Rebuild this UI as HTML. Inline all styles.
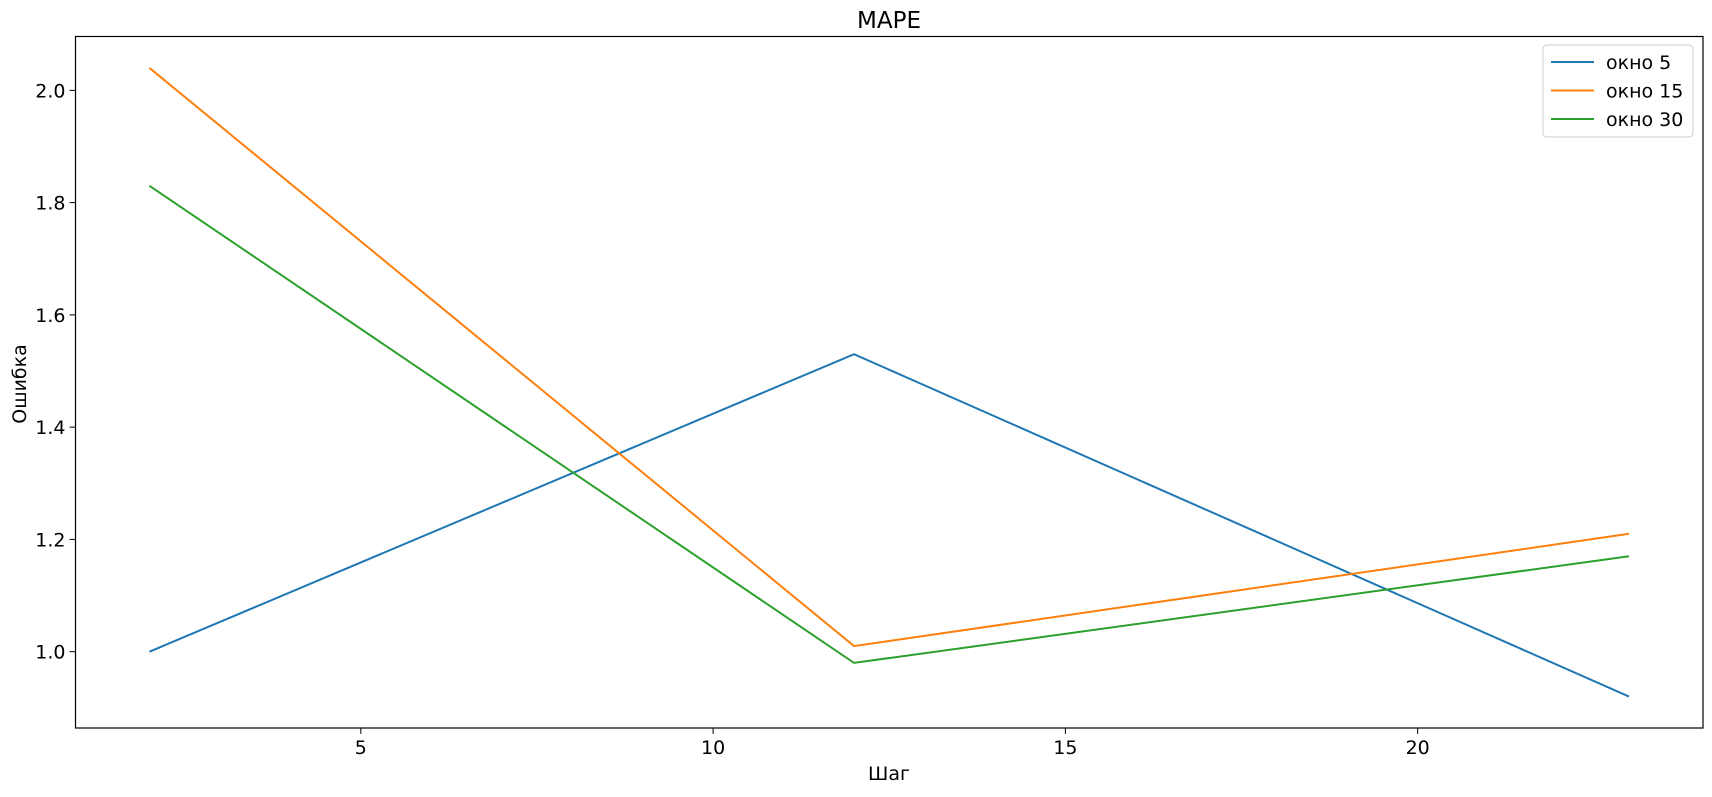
<!DOCTYPE html>
<html><head><meta charset="utf-8"><style>
html,body{margin:0;padding:0;background:#fff;}
svg text{font-family:"DejaVu Sans","Liberation Sans",sans-serif;fill:#000;}
</style></head><body>
<svg id="chart" width="1712" height="792" xmlns="http://www.w3.org/2000/svg">
<rect x="0" y="0" width="1712" height="792" fill="#fff"/>
<text x="889" y="28" font-size="23" text-anchor="middle">MAPE</text>
<g id="plot"></g>
<rect x="75.5" y="36.5" width="1627.5" height="691.5" fill="none" stroke="#000" stroke-width="1.2"/>
<text x="889" y="780" font-size="19" text-anchor="middle">Шаг</text>
<text x="0" y="0" font-size="19" text-anchor="middle" transform="translate(26,384) rotate(-90)">Ошибка</text>
<g>
<rect x="1543" y="45" width="150" height="92" rx="4" fill="#fff" stroke="#ccc" stroke-width="1"/>
<g id="legend-entries"></g>
</g>
</svg>
<script>
const xValues = [2, 12, 23];
const seriesNames = ["окно 5", "окно 15", "окно 30"];
const series5 = [1.0, 1.53, 0.92];
const series15 = [2.04, 1.01, 1.21];
const series30 = [1.83, 0.98, 1.17];
const xTicks = [5, 10, 15, 20];
const yTicks = [1.0, 1.2, 1.4, 1.6, 1.8, 2.0];
const colors = ["#1f77b4", "#ff7f0e", "#2ca02c"];

const NS = "http://www.w3.org/2000/svg";
const L = 75.5, R = 1703, T = 36.5, B = 728;
const allY = series5.concat(series15, series30);
const xmin0 = Math.min(...xValues), xmax0 = Math.max(...xValues);
const ymin0 = Math.min(...allY), ymax0 = Math.max(...allY);
const xm = (xmax0 - xmin0) * 0.05, ym = (ymax0 - ymin0) * 0.05;
const xmin = xmin0 - xm, xmax = xmax0 + xm, ymin = ymin0 - ym, ymax = ymax0 + ym;
function sx(v){return L + (v - xmin) / (xmax - xmin) * (R - L);}
function sy(v){return B - (v - ymin) / (ymax - ymin) * (B - T);}
const svg = document.getElementById('chart');
const plot = document.getElementById('plot');
function mk(tag, attrs){const e=document.createElementNS(NS,tag);for(const k in attrs)e.setAttribute(k,attrs[k]);return e;}

xTicks.forEach(t=>{
  const x = sx(t);
  const ln = mk('line',{x1:x,x2:x,y1:B,y2:B+6,stroke:'#000','stroke-width':1});
  
  
  svg.appendChild(ln);
  const tx = mk('text',{x:x,y:B+26,'font-size':19,'text-anchor':'middle'});
  tx.textContent = t;
  
  
  svg.appendChild(tx);
});
yTicks.forEach(t=>{
  const y = sy(t);
  const ln = mk('line',{x1:L-6,x2:L,y1:y,y2:y,stroke:'#000','stroke-width':1});
  
  
  svg.appendChild(ln);
  const tx = mk('text',{x:L-10,y:y+7,'font-size':19,'text-anchor':'end'});
  tx.textContent = t.toFixed(1);
  
  
  svg.appendChild(tx);
});
[series5, series15, series30].forEach((s,i)=>{
  const pts = s.map((v,j)=>sx(xValues[j])+','+sy(v)).join(' ');
  const pl = mk('polyline',{points:pts,fill:'none',stroke:colors[i],'stroke-width':2});
  
  
  plot.appendChild(pl);
});
const leg = document.getElementById('legend-entries');
seriesNames.forEach((n,i)=>{
  const y = 62 + i*28.5;
  const ln = mk('line',{x1:1551,x2:1594,y1:y,y2:y,stroke:colors[i],'stroke-width':2});
  
  
  leg.appendChild(ln);
  const tx = mk('text',{x:1606,y:y+7,'font-size':19});
  tx.textContent = n;
  
  
  leg.appendChild(tx);
});
</script>
</body></html>
